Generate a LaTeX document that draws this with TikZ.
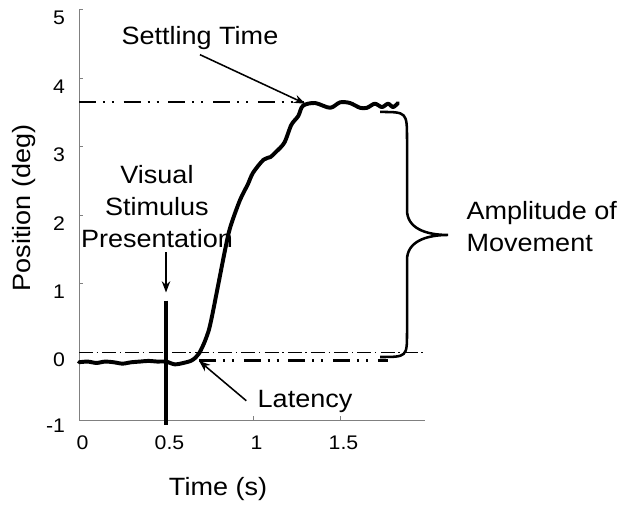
\documentclass[tikz,border=0pt]{standalone}
\usepackage{fontspec}
\setmainfont{Liberation Sans}[FakeStretch=1.08]
\usepackage{tikz}
\usetikzlibrary{arrows.meta}
\definecolor{axisG}{HTML}{808080}
\definecolor{traceK}{HTML}{000000}

\begin{document}
\begin{tikzpicture}[x=4.35cm, y=1.71cm,
    lab/.style={font=\fontsize{17.8pt}{22.7pt}\selectfont},
    ticklab/.style={font=\fontsize{14pt}{16pt}\selectfont},
    pointer/.style={-{Stealth[length=8pt, width=6pt]}, line width=1.1pt},
    dashdotdot/.style={dash pattern=on 12pt off 5pt on 1.4pt off 5pt on 1.4pt off 7pt}]
  \useasboundingbox (-0.454,-2.251) rectangle (3.109,5.146);

  % axes
  \draw[axisG, line width=0.7pt] (0,5) -- (0,-1) -- (1.99,-1);
  \foreach \y in {1,2,3,4,5}{
    \draw[axisG, line width=0.7pt] (0,\y) -- ++(3pt,0);
    \node[ticklab, anchor=east] (ylab\y) at (-0.052,\y-0.117) {\y};
  }
  \node[ticklab, anchor=east] (ylab0) at (-0.052,-0.117) {0};
  \node[ticklab, anchor=east] (ylabm) at (-0.052,-1.08) {-1};
  \foreach \x/\lab in {0/0, 0.5/0.5, 1/1, 1.5/1.5}{
    \draw[axisG, line width=0.7pt] (\x,-1) -- ++(0,3pt);
    \node[ticklab] (xlab\lab) at (\x+0.02,-1.33) {\lab};
  }
  \node[lab] (xname) at (0.799,-2.003) {Time (s)};
  \node[lab, rotate=90] (yname) at (-0.316,2.105) {Position (deg)};

  % reference levels
  \draw[line width=0.45pt, dash pattern=on 10pt off 2.5pt on 1pt off 3pt] (0,0) -- (1.99,0);
  \draw[dashdotdot, line width=1.4pt] (0,3.66) -- (1.29,3.66);
  \draw[dashdotdot, line width=2.1pt] (0.69,-0.13) -- (1.776,-0.13);

  % stimulus onset
  \draw[line width=2.4pt] (0.5,0.75) -- (0.5,-1.07);

  % eye position trace
  \draw[traceK, line width=2.8pt, line join=round, line cap=round]
    plot[smooth, tension=0.5] coordinates {
      (0,-0.15) (0.05,-0.14) (0.1,-0.16) (0.15,-0.14) (0.2,-0.15)
      (0.25,-0.17) (0.3,-0.15) (0.35,-0.14) (0.4,-0.13) (0.45,-0.14)
      (0.5,-0.14) (0.55,-0.18) (0.6,-0.16) (0.65,-0.12) (0.69,-0.02)
      (0.73,0.2) (0.76,0.47) (0.84,1.5) (0.87,1.83) (0.925,2.22)
      (0.97,2.45) (1.0,2.62) (1.06,2.81) (1.1,2.85) (1.13,2.92)
      (1.18,3.06) (1.22,3.32) (1.26,3.45) (1.287,3.6) (1.356,3.64)
      (1.443,3.57) (1.5,3.65) (1.557,3.64) (1.615,3.57) (1.655,3.57)
      (1.70,3.63) (1.741,3.58) (1.776,3.63) (1.805,3.58) (1.833,3.64)};

  % brace
  \draw[line width=1.8pt]
    (1.730,3.509) .. controls (1.885,3.509) .. (1.885,3.099) -- (1.885,2.076)
    .. controls (1.885,1.813) and (1.989,1.711) .. (2.121,1.711)
    .. controls (1.989,1.711) and (1.885,1.608) .. (1.885,1.345) -- (1.885,0.292)
    .. controls (1.885,-0.073) .. (1.730,-0.073);

  \coordinate (settle) at (1.30,3.63);
  \coordinate (lat) at (0.69,-0.13);
  \coordinate (stim) at (0.5,0.87);

  \node[lab] (settling) at (0.695,4.59) {Settling Time};
  \node[lab, align=center] (visual) at (0.448,2.13) {Visual\\Stimulus\\Presentation};
  \node[lab] (latency) at (1.299,-0.73) {Latency};
  \node[lab, anchor=west, align=left, inner sep=0pt] (amp) at (2.226,1.835) {Amplitude of\\Movement};

  \draw[pointer] (settling.south) -- (settle);
  \draw[pointer] (visual.south -| stim) -- (stim);
  \draw[pointer, shorten <=6pt] ([yshift=-3pt]latency.west) -- (lat);
\end{tikzpicture}
\end{document}
